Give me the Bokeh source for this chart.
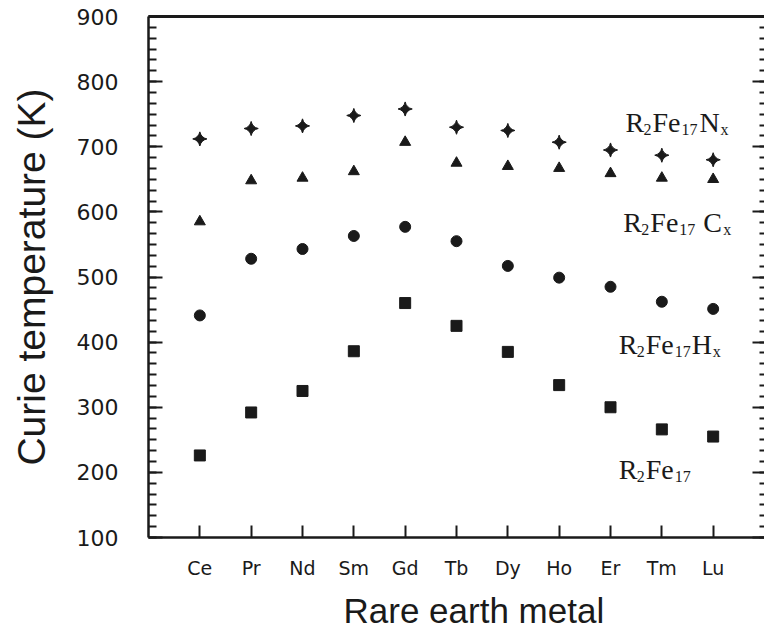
import numpy as np
from bokeh.plotting import figure
from bokeh.models import (Range1d, LinearAxis, FixedTicker, SingleIntervalTicker,
                          ColumnDataSource, Title)
from bokeh.core.properties import value
from bokeh.embed import file_html
from bokeh.resources import INLINE

# ---------------- data ----------------
categories = ["Ce", "Pr", "Nd", "Sm", "Gd", "Tb", "Dy", "Ho", "Er", "Tm", "Lu"]
tc_nitride = [712, 728, 732, 748, 758, 730, 725, 707, 695, 687, 680]   # R2Fe17Nx
tc_carbide = [585, 648, 652, 662, 707, 675, 670, 667, 659, 652, 650]   # R2Fe17Cx
tc_hydride = [441, 528, 543, 563, 577, 555, 517, 499, 485, 462, 451]   # R2Fe17Hx
tc_binary = [226, 292, 325, 386, 460, 425, 385, 334, 300, 266, 255]    # R2Fe17
y_ticks = [100, 200, 300, 400, 500, 600, 700, 800, 900]

x = list(range(len(categories)))

p = figure(width=764, height=641,
           x_range=Range1d(-1, 11.0), y_range=Range1d(100, 900),
           output_backend="svg", toolbar_location=None,
           min_border_left=148, min_border_right=0,
           min_border_top=16, min_border_bottom=103,
           background_fill_color="white", border_fill_color="white")
p.outline_line_color = None
p.grid.visible = False

INK = "#1a1a1a"

# ---------------- left axis ----------------
ya = p.yaxis[0]
ya.ticker = SingleIntervalTicker(interval=100, num_minor_ticks=6)
ya.major_tick_in = 14
ya.major_tick_out = 0
ya.minor_tick_in = 8
ya.minor_tick_out = 0
ya.axis_line_width = 2.5
ya.axis_line_color = INK
ya.major_tick_line_width = 2
ya.minor_tick_line_width = 2
ya.major_tick_line_color = INK
ya.minor_tick_line_color = INK
ya.major_label_standoff = 30
ya.major_label_text_font = "DejaVu Sans"
ya.major_label_text_font_size = "22px"
ya.major_label_text_color = INK
ya.axis_label = "Curie temperature (K)"
ya.axis_label_text_font = "Liberation Sans"
ya.axis_label_text_font_size = "39px"
ya.axis_label_text_font_style = "normal"
ya.axis_label_text_color = INK
ya.axis_label_standoff = 21

# ---------------- bottom axis ----------------
xa = p.xaxis[0]
xa.ticker = FixedTicker(ticks=x, minor_ticks=[])
xa.major_label_overrides = {i: c for i, c in zip(x, categories)}
xa.major_tick_in = 12
xa.major_tick_out = 0
xa.minor_tick_in = 0
xa.minor_tick_out = 0
xa.axis_line_width = 2.5
xa.axis_line_color = INK
xa.major_tick_line_width = 2
xa.major_tick_line_color = INK
xa.major_label_standoff = 19
xa.major_label_text_font = "DejaVu Sans"
xa.major_label_text_font_size = "19px"
xa.major_label_text_color = INK

p.add_layout(Title(text="Rare earth metal", align="left", offset=195, standoff=19,
                   vertical_align="top",
                   text_font="Liberation Sans", text_font_size="35px",
                   text_font_style="normal", text_color=INK), "below")

# ---------------- top border ----------------
top = LinearAxis(ticker=FixedTicker(ticks=[]), major_label_standoff=0,
                 major_tick_out=0, major_tick_in=0, minor_tick_in=0, minor_tick_out=0,
                 axis_line_width=3, axis_line_color=INK)
p.add_layout(top, "above")

# ---------------- right ticks ----------------
right = LinearAxis(ticker=SingleIntervalTicker(interval=100, num_minor_ticks=6),
                   major_label_overrides={t: "" for t in y_ticks},
                   major_label_standoff=0, major_label_text_font_size="1px",
                   major_tick_in=12, major_tick_out=0, minor_tick_in=5, minor_tick_out=0,
                   major_tick_line_width=2, minor_tick_line_width=2,
                   major_tick_line_color=INK, minor_tick_line_color=INK,
                   axis_line_color=None)
p.add_layout(right, "right")

# ---------------- markers ----------------
p.scatter(x, tc_nitride, marker="square_pin", angle=np.pi / 4, size=10,
          fill_color=INK, line_color=INK)
p.scatter(x, tc_carbide, marker="triangle", size=11, fill_color=INK, line_color=INK)
p.scatter(x, tc_hydride, marker="circle", size=11, fill_color=INK, line_color=INK)
p.scatter(x, tc_binary, marker="square", size=11, fill_color=INK, line_color=INK)

# ---------------- series labels (with subscripts) ----------------
label_anchor_x = [8.29, 8.25, 8.16, 8.16]
label_anchor_y = [737, 584, 396, 204]
last_letter = ["N", "C", "H", None]
last_offset = [74, 80, 73, None]
last_width = [21, 20, 21, None]

rows = dict(x=[], y=[], text=[], dx=[], dy=[], size=[])
for ax_, ay_, let, lo, lw in zip(label_anchor_x, label_anchor_y, last_letter,
                                 last_offset, last_width):
    pieces = [("R", 0, 0, "28px"), ("2", 18, 7, "16px"),
              ("Fe", 27, 0, "28px"), ("17", 56, 7, "16px")]
    if let is not None:
        pieces += [(let, lo, 0, "28px"), ("x", lo + lw, 7, "16px")]
    for t, dx, dy, sz in pieces:
        rows["x"].append(ax_)
        rows["y"].append(ay_)
        rows["text"].append(t)
        rows["dx"].append(dx)
        rows["dy"].append(dy)
        rows["size"].append(sz)

p.text(x="x", y="y", text="text", x_offset="dx", y_offset="dy",
       text_font_size="size", source=ColumnDataSource(rows),
       text_font=value("Liberation Serif"), text_color=INK,
       text_align="left", text_baseline="alphabetic")

open("out.html", "w").write(file_html(p, INLINE))
